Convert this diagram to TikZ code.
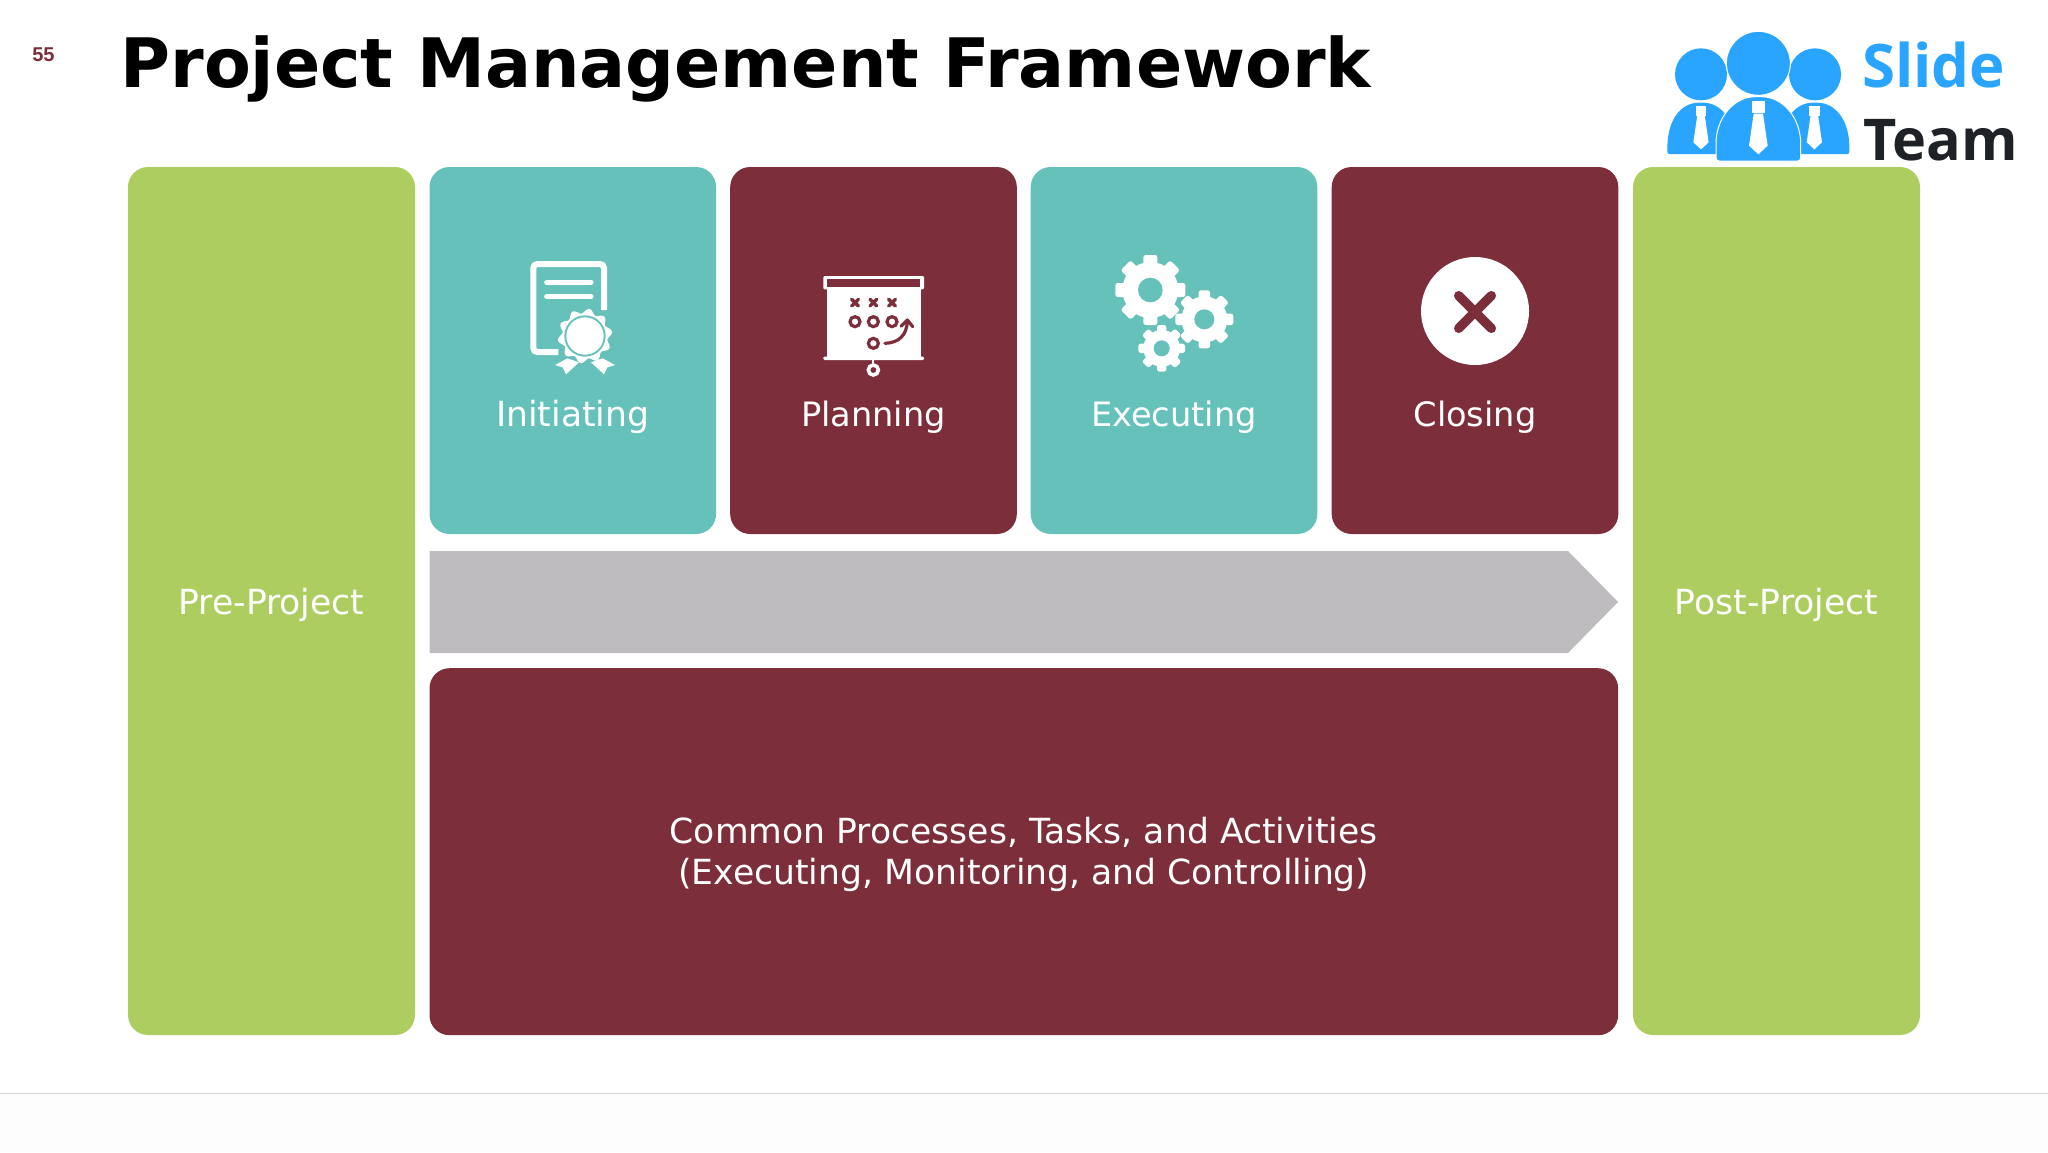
\documentclass[tikz,border=0pt]{standalone}
\usepackage{fontspec}
\setmainfont{DejaVu Sans}
\newfontfamily\numfont{Liberation Sans}
\newfontfamily\logofont{Open Sans}
\definecolor{cardteal}{HTML}{66C1BB}
\definecolor{cardwine}{HTML}{7C2E3B}
\definecolor{cardgreen}{HTML}{ADCD60}
\definecolor{bandgrey}{HTML}{BEBCBF}
\definecolor{logoblue}{HTML}{2AA5FF}
\definecolor{logoink}{HTML}{1E2227}
\definecolor{ruleline}{HTML}{D4D4D4}
\definecolor{footwhite}{HTML}{FDFDFD}
\newcommand{\gearshape}[6]{%
  \pgfmathsetmacro{\gw}{#6}
  \foreach \a in {0,45,...,315}{
    \fill[white,shift={(#1,#2)},rotate=\a,rounded corners=1.2pt] (-\gw,0) rectangle (\gw,#3);
  }
  \fill[white] (#1,#2) circle (#4);
  \fill[cardteal] (#1,#2) circle (#5);
}
\newcommand{\logotie}[3]{%
  \fill[white,shift={(#1,#2)},scale=#3] (-19,0) -- (19,0) -- (19,36) -- (-19,36) -- cycle;
  \fill[white,shift={(#1,#2)},scale=#3] (-14,38) -- (14,38) -- (28,134) -- (0,160) -- (-28,134) -- cycle;
}
\tikzset{
  box/.style={rounded corners=10pt,inner sep=0pt,outer sep=0pt},
  card/.style={box,minimum width=143.3pt,minimum height=183.5pt},
  side/.style={box,minimum width=143.5pt,minimum height=434pt},
  cardlabel/.style={anchor=base,text=white,inner sep=0pt,align=center,font=\fontsize{17.3}{20.5}\selectfont},
  cardlabelnarrow/.style={cardlabel,font=\fontsize{16.8}{20.5}\selectfont},
  iconline/.style={line cap=round,line join=round}
}
\begin{document}
\begin{tikzpicture}[x=0.5pt,y=-0.5pt]
\path[use as bounding box,fill=white] (0,0) rectangle (2048,1152);
\fill[footwhite] (0,1094) rectangle (2048,1152);
\draw[ruleline,line width=0.8pt] (0,1093.5) -- (2048,1093.5);

\node[anchor=base,inner sep=0pt,text=cardwine,font=\numfont\bfseries\fontsize{10}{12}\selectfont] (pagenum) at (43.5,61) {55};
\node[anchor=base west,inner sep=0pt,font=\bfseries\fontsize{34.1}{42}\selectfont] (title) at (120,87) {Project Management Framework};

% cards
\node[side,fill=cardgreen] (pre) at (271.5,601) {};
\node[side,fill=cardgreen] (post) at (1776.5,601) {};
\node[card,fill=cardteal] (init) at (572.8,350.5) {};
\node[card,fill=cardwine] (plan) at (873.5,350.5) {};
\node[card,fill=cardteal] (exec) at (1174,350.5) {};
\node[card,fill=cardwine] (close) at (1475,350.5) {};
\node[box,fill=cardwine,minimum width=594.3pt,minimum height=183.5pt] (common) at (1023.8,851.7) {};

\fill[bandgrey] (429.5,551) -- (1568,551) -- (1618,602) -- (1568,653) -- (429.5,653) -- cycle;

\node[cardlabel] (lpre) at (271.5,614.3) {Pre-Project};
\node[cardlabel] (lpost) at (1776.5,614.3) {Post-Project};
\node[cardlabel] (linit) at (572.8,426) {Initiating};
\node[cardlabelnarrow] (lplan) at (873.5,426) {Planning};
\node[cardlabelnarrow] (lexec) at (1174,426) {Executing};
\node[cardlabelnarrow] (lclose) at (1475,426) {Closing};
\node[cardlabel,anchor=center] (lcommon) at (1023.8,854.5)
  {Common Processes, Tasks, and Activities\\(Executing, Monitoring, and Controlling)};

% certificate icon
\begin{scope}[xshift=240pt,yshift=-115pt,x=0.16667pt,y=-0.16667pt]
  \draw[white,line width=3pt,rounded corners=2pt] (372,240) -- (372,102) -- (160,102) -- (160,366) -- (235,366);
  \draw[white,line width=2.5pt,iconline] (200,157) -- (333,157);
  \draw[white,line width=2.5pt,iconline] (200,200) -- (333,200);
  \fill[white] (262,385) -- (297,397) -- (258,433) -- (248,412) -- (225,405) -- cycle;
  \fill[white] (368,385) -- (333,397) -- (372,433) -- (382,412) -- (405,405) -- cycle;
  \fill[white] plot[domain=0:360,samples=121,smooth] ({315+(75+7*cos(10*\x+90))*cos(\x)},{318+(75+7*cos(10*\x+90))*sin(\x)});
  \fill[cardteal] (315,318) circle (62);
  \fill[white] (315,318) circle (56);
\end{scope}

% planning board icon
\begin{scope}[xshift=240pt,yshift=-115pt,x=0.16667pt,y=-0.16667pt]
  \fill[white,rounded corners=0.6pt] (1030,138) rectangle (1332,178);
  \fill[cardwine] (1040,148) rectangle (1320,170);
  \fill[white] (1040,178) rectangle (1322,382);
  \fill[white,rounded corners=0.6pt] (1030,380) rectangle (1332,390);
  \draw[white,line width=1pt] (1180,388) -- (1180,402);
  \draw[white,line width=1.8pt] (1180,420) circle (15);
  \foreach \cx in {1125,1180,1236}{
    \draw[cardwine,line width=1.7pt,iconline] (\cx-10,208) -- (\cx+10,228) (\cx+10,208) -- (\cx-10,228);
    \draw[cardwine,line width=1.6pt] (\cx,275) circle (15);
  }
  \draw[cardwine,line width=1.6pt] (1180,340) circle (15);
  \draw[cardwine,line width=1.6pt,iconline] (1215,340) .. controls (1258,338) and (1280,315) .. (1282,274);
  \draw[cardwine,line width=1.6pt,iconline] (1263,289) -- (1282,270) -- (1298,290);
\end{scope}

% gears icon
\begin{scope}[xshift=540pt,yshift=-115pt,x=0.16667pt,y=-0.16667pt]
  \gearshape{211}{180}{105}{84}{37}{21}
  \gearshape{373}{268}{87}{69}{30}{17}
  \gearshape{245}{355}{70}{55}{24}{14}
\end{scope}

% closing icon
\begin{scope}[xshift=540pt,yshift=-115pt,x=0.16667pt,y=-0.16667pt]
  \fill[white] (1185,243) circle (162);
  \draw[cardwine,line width=4.7pt,iconline] (1136,197) -- (1234,295) (1234,197) -- (1136,295);
\end{scope}

% logo
\begin{scope}[xshift=820pt,yshift=-5pt,x=0.16667pt,y=-0.16667pt]
  \fill[logoblue] (183,193) circle (78);
  \fill[logoblue] (525,193) circle (78);
  \draw[white,line width=0.5pt,fill=logoblue] (355,160) circle (96);
  \fill[logoblue,rounded corners=1pt] (82,432) -- (82,410) .. controls (85,325) and (125,278) .. (183,278) .. controls (241,278) and (281,325) .. (284,410) -- (284,432) -- cycle;
  \fill[logoblue,rounded corners=1pt] (424,432) -- (424,410) .. controls (427,325) and (467,278) .. (525,278) .. controls (583,278) and (625,325) .. (628,410) -- (628,432) -- cycle;
  \draw[white,line width=0.5pt,fill=logoblue,rounded corners=1.5pt] (228,453) -- (228,410) .. controls (228,325) and (280,260) .. (355,260) .. controls (430,260) and (482,325) .. (482,410) -- (482,453) -- cycle;
  \logotie{183}{287}{0.82}
  \logotie{523}{287}{0.82}
  \logotie{355}{273}{1}
  \node[anchor=base west,inner sep=0pt,text=logoblue,font=\logofont\bfseries\fontsize{30}{36}\selectfont] (slide) at (665,232) {Slide};
  \node[anchor=base west,inner sep=0pt,text=logoink,font=\logofont\bfseries\fontsize{28.8}{36}\selectfont] (team) at (668,450) {Team};
\end{scope}
\end{tikzpicture}
\end{document}
